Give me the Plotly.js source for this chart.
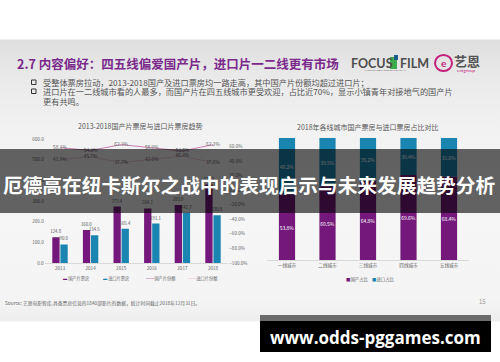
<!DOCTYPE html>
<html><head><meta charset="utf-8">
<script src="https://cdn.plot.ly/plotly-3.0.1.min.js"></script>
<style>
html,body{margin:0;padding:0;background:#fff;}
#chart{width:500px;height:362px;
background:linear-gradient(to bottom,#fff 0px,#fff 39px,#dedede 40px,#e9e9e9 75px,#f2f2f2 130px,#f6f6f6 220px,#f4f4f4 300px,#eeeeee 321px,#fff 322px,#fff 362px);}
</style></head><body><div id="chart"></div>
<script>
// ---- data ----
const years = ['2013','2014','2015','2016','2017','2018'];
const domesticBox = [124.8,160.0,273.4,264.1,280.9,379.8];
const importBox = [90.0,134.5,165.4,191.1,242.7,230.8];
const domesticShare = [58.1,54.3,62.3,58.0,53.6,62.2];
const importShare = [41.9,45.7,37.7,42.0,46.4,37.8];
const cities = ['一线城市','二线城市','三线城市','四线城市','五线城市'];
const cityDomestic = [53.8,60.5,64.8,69.6,68.4];
const cityImport = [46.2,39.5,35.2,30.4,31.6];

const F = 'Noto Sans CJK SC, Noto Sans, sans-serif';
const PURPLE = '#74197b', BLUE = '#1a85b1', MAUVE = '#c77fb0', PINK = '#e9c6da';
const W = 500, H = 362;
const px = x => x / W, py = y => 1 - y / H;

function A(x, y, text, size, color, o) {
  return Object.assign({xref:'paper', yref:'paper', x:px(x), y:py(y), text:text, showarrow:false,
    xanchor:'left', yanchor:'middle', font:{family:F, size:size, color:color}}, o || {});
}
function R(x0, y0, x1, y1, fill, o) {
  return Object.assign({type:'rect', xref:'paper', yref:'paper', x0:px(x0), x1:px(x1), y0:py(y1), y1:py(y0),
    fillcolor:fill, line:{width:0}, layer:'below'}, o || {});
}

const traces = [
  {type:'bar', name:'国产片票房', x:years, y:domesticBox, xaxis:'x', yaxis:'y',
   marker:{color:PURPLE}, text:domesticBox.map(v => v.toFixed(1)), textposition:'outside', textangle:0,
   constraintext:'none', cliponaxis:false, textfont:{family:F, size:4.3, color:'#555'}, showlegend:false},
  {type:'bar', name:'进口片票房', x:years, y:importBox, xaxis:'x', yaxis:'y',
   marker:{color:BLUE}, text:importBox.map(v => v.toFixed(1)), textposition:'outside', textangle:0,
   constraintext:'none', cliponaxis:false, textfont:{family:F, size:4.3, color:'#555'}, showlegend:false},
  {type:'scatter', mode:'lines+text', name:'国产片份额', x:years, y:domesticShare, xaxis:'x', yaxis:'y2',
   line:{color:MAUVE, width:1}, text:domesticShare.map(v => v.toFixed(1) + '%'), textposition:'middle center',
   textfont:{family:F, size:4.8, color:'#666'}, cliponaxis:false, showlegend:false},
  {type:'scatter', mode:'lines+text', name:'进口片份额', x:years, y:importShare, xaxis:'x', yaxis:'y2',
   line:{color:PINK, width:1}, text:importShare.map(v => v.toFixed(1) + '%'), textposition:'middle center',
   textfont:{family:F, size:4.8, color:'#666'}, cliponaxis:false, showlegend:false},
  {type:'bar', name:'国产占比', x:cities, y:cityDomestic, xaxis:'x2', yaxis:'y3', width:0.4, offsetgroup:'c',
   marker:{color:PURPLE}, text:cityDomestic.map(v => v.toFixed(1) + '%'), textposition:'inside', textangle:0,
   insidetextanchor:'middle', constraintext:'none', textfont:{family:F, size:5, color:'#fff'}, showlegend:false},
  {type:'bar', name:'进口占比', x:cities, y:cityImport, base:cityDomestic, xaxis:'x2', yaxis:'y3', width:0.4, offsetgroup:'c',
   marker:{color:BLUE}, text:cityImport.map(v => v.toFixed(1) + '%'), textposition:'inside', textangle:0,
   insidetextanchor:'middle', constraintext:'none', textfont:{family:F, size:5, color:'#fff'}, showlegend:false}
];

const tickF = {family:F, size:4.6, color:'#666'};
const layout = {
  width:W, height:H, margin:{l:0, r:0, t:0, b:0},
  paper_bgcolor:'rgba(0,0,0,0)', plot_bgcolor:'rgba(0,0,0,0)',
  barmode:'group', bargap:0.47, bargroupgap:0.1, showlegend:false,
  xaxis:{domain:[0.0894,0.4566], anchor:'y', type:'category', showline:true, linecolor:'#d9d9d9', linewidth:1,
         ticks:'', tickfont:tickF, showgrid:false, zeroline:false},
  yaxis:{domain:[py(263), py(139)], anchor:'x', range:[0,600], dtick:100, tickformat:'.1f',
         showgrid:false, zeroline:false, showline:false, ticks:'', tickfont:tickF},
  yaxis2:{overlaying:'y', side:'right', anchor:'x', range:[-100,70], tick0:-100, dtick:20, tickformat:'.1f',
          ticksuffix:'%', showgrid:false, zeroline:false, showline:false, ticks:'', tickfont:tickF},
  xaxis2:{domain:[0.5335,0.9385], anchor:'y3', type:'category', showline:true, linecolor:'#d9d9d9', linewidth:1,
          ticks:'', tickfont:tickF, showgrid:false, zeroline:false},
  yaxis3:{domain:[py(260), py(138)], anchor:'x2', range:[0,100], visible:false},
  shapes:[
    // bullet squares
    R(31.5,80,36,84.5,'rgba(0,0,0,0)',{line:{color:'#333',width:1}, layer:'above'}),
    R(31.5,89,36,93.5,'rgba(0,0,0,0)',{line:{color:'#333',width:1}, layer:'above'}),
    // logo pieces
    R(390,57,397,69,'#3dab4a',{layer:'above'}),
    R(394,55,398,60,'#1d5d8c',{layer:'above'}),
    {type:'circle', xref:'paper', yref:'paper', x0:px(435), x1:px(452), y0:py(71), y1:py(55),
     line:{color:'#c2207a', width:2}, fillcolor:'rgba(0,0,0,0)', layer:'above'},
    // overlay banner
    R(0,149,500,213,'rgba(0,0,0,0.6)',{layer:'above'}),
    // watermark box
    R(260,315,491,321,'#6b6b6b',{layer:'above'}),
    R(260,321,491,352,'#000',{layer:'above'})
  ],
  annotations:[
    A(15,63,'<b>2.7 内容偏好：四五线偏爱国产片，进口片一二线更有市场</b>',12.5,'#7b2a8c'),
    A(41,82,'受整体票房拉动，2013-2018国产及进口票房均一路走高，其中国产片份额均超过进口片；',8.2,'#555'),
    A(41,91.5,'进口片在一二线城市看的人最多，而国产片在四五线城市更受欢迎，占比近70%，显示小镇青年对接地气的国产片',8.2,'#555'),
    A(41,101,'更有共鸣。',8.2,'#555'),
    A(349,63,'<b>FOCUS</b>',12.5,'#4d4d4d',{font:{family:'Lato',size:12.5,color:'#4d4d4d'}}),
    A(398,63,'<b>FILM</b>',12.5,'#4d4d4d',{font:{family:'Lato',size:12.5,color:'#4d4d4d'}}),
    A(362,70,'A FOCUSMEDIA GROUP COMPANY',2.6,'#666',{font:{family:'Lato',size:2.6,color:'#666'}}),
    A(443.5,63,'<b>e</b>',10,'#c2207a',{xanchor:'center',font:{family:'Lato',size:10,color:'#c2207a'}}),
    A(452,61,'<b>艺恩</b>',13,'#555'),
    A(455,70,'entgroup',4.5,'#c2207a',{font:{family:'Lato',size:4.5,color:'#c2207a'}}),
    A(140,126,'2013-2018国产片票房与进口片票房趋势',7,'#595959',{xanchor:'center'}),
    A(368,127,'2018年各线城市国产票房与进口票房占比对比',7,'#595959',{xanchor:'center'}),
    // left legend
    A(61,278,'<span style="color:'+PURPLE+'">▬</span> 国产片票房',4.2,'#666'),
    A(101,278,'<span style="color:'+BLUE+'">▬</span> 进口片票房',4.2,'#666'),
    A(144,278,'<span style="color:'+MAUVE+'">━━</span>国产片份额',4.2,'#666'),
    A(186,278,'<span style="color:'+PINK+'">━━</span>进口片份额',4.2,'#666'),
    // right legend
    A(344,279,'<span style="color:'+PURPLE+'">■</span>国产占比',4.4,'#666'),
    A(370,279,'<span style="color:'+BLUE+'">■</span>进口占比',4.4,'#666'),
    // footer
    A(3,303,'Source: 艺恩电影智库,具备票房信息的1840部影片的数据，统计时间截止2018年12月31日。',4.8,'#666'),
    A(477,301,'15',6,'#999'),
    // overlay banner text
    A(249,184,'<b>厄德高在纽卡斯尔之战中的表现启示与未来发展趋势分析</b>',19.7,'#fff',{xanchor:'center'}),
    A(375,337,'<b>www.odds-pggames.com</b>',17,'#fff',{xanchor:'center',font:{family:'Open Sans',size:17,color:'#fff'}})
  ]
};
Plotly.newPlot('chart', traces, layout, {displayModeBar:false, staticPlot:true});
</script></body></html>
